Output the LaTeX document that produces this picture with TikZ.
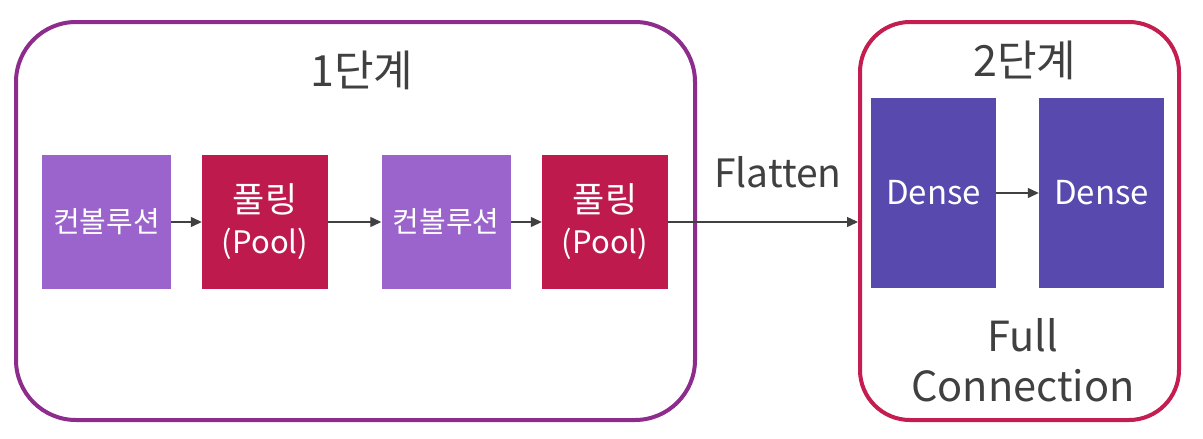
\documentclass[tikz,border=0pt]{standalone}
\usepackage{fontspec}
\setmainfont{Noto Sans CJK KR}
\usetikzlibrary{arrows.meta}
\definecolor{txtgray}{HTML}{404040}
\definecolor{stageone}{HTML}{8E2C8E}
\definecolor{stagetwo}{HTML}{C41E50}
\definecolor{convcol}{HTML}{9B64CC}
\definecolor{poolcol}{HTML}{BE1A4E}
\definecolor{densecol}{HTML}{5849AE}
\tikzset{
  stagebox/.style={draw, line width=4pt, minimum height=398pt, inner sep=0pt},
  layerbox/.style={inner sep=0pt, minimum height=134pt, text=white, align=center},
  convbox/.style={layerbox, fill=convcol, minimum width=129pt, font=\fontsize{29}{32}\selectfont},
  poolbox/.style={layerbox, fill=poolcol, minimum width=126pt, font=\fontsize{31}{41}\selectfont},
  densebox/.style={inner sep=0pt, fill=densecol, minimum width=125pt, minimum height=190pt, text=white, font=\fontsize{33}{36}\selectfont},
  conn/.style={draw=txtgray, line width=1.3pt, -{Triangle[length=11pt,width=10pt]}},
  label/.style={text=txtgray, inner sep=0pt}
}
\newcommand{\poollabel}{{\fontsize{35}{41}\selectfont 풀링}\\(Pool)}
\begin{document}
\begin{tikzpicture}[x=1pt,y=-1pt]
\useasboundingbox[fill=white] (0,0) rectangle (1203,439);
\node[stagebox, draw=stageone, minimum width=679pt, rounded corners=60pt] (s1) at (355.5,221) {};
\node[stagebox, draw=stagetwo, minimum width=319pt, rounded corners=50pt] (s2) at (1019.5,221) {};
\node[label, font=\fontsize{43}{48}\selectfont] (t1) at (362,70) {1단계};
\node[label, font=\fontsize{43}{48}\selectfont] (t2) at (1025,60) {2단계};
\node[convbox] (c1) at (106.5,222) {컨볼루션};
\node[poolbox] (p1) at (265,222) {\poollabel};
\node[convbox] (c2) at (446,222) {컨볼루션};
\node[poolbox] (p2) at (605,222) {\poollabel};
\node[densebox] (d1) at (933.5,193) {Dense};
\node[densebox] (d2) at (1101.5,193) {Dense};
\node[label, font=\fontsize{39}{44}\selectfont] (fl) at (778,172) {Flatten};
\node[label, align=center, font=\fontsize{41.5}{50}\selectfont] (fc) at (1023,360) {Full\\Connection};
\draw[conn] (c1.east) -- (p1.west);
\draw[conn] (p1.east) -- (c2.west);
\draw[conn] (c2.east) -- (p2.west);
\draw[conn] (p2.east) -- (p2.east -| s2.west);
\draw[conn] (d1.east) -- (d2.west);
\end{tikzpicture}
\end{document}
